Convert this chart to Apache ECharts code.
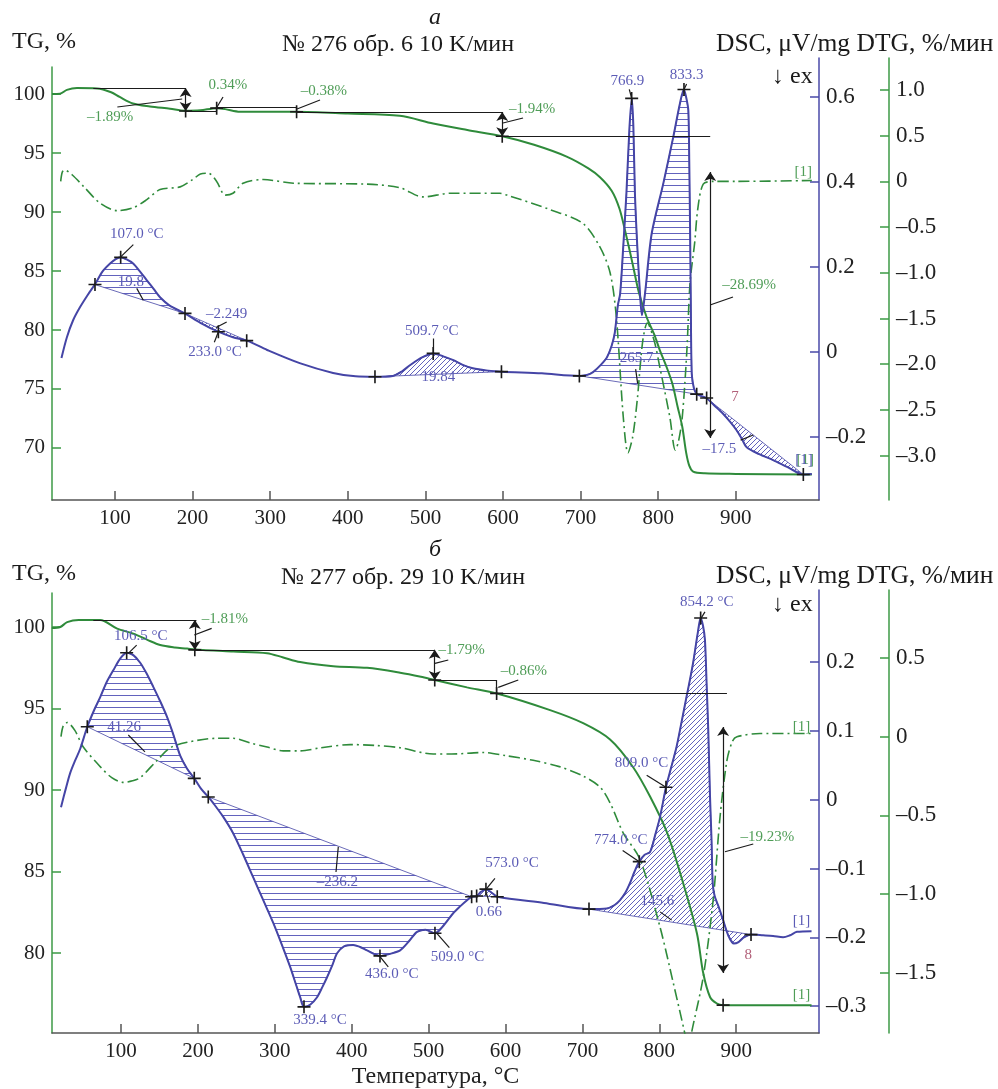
<!DOCTYPE html>
<html>
<head>
<meta charset="utf-8">
<script src="https://cdn.jsdelivr.net/npm/echarts@6/dist/echarts.min.js"></script>
<style>
html, body { margin: 0; padding: 0; background: #fff; }
#chart { width: 998px; height: 1089px; }
</style>
</head>
<body>
<div id="chart"></div>
<script>
// ---- panel a: № 276 ----
var tgA = [[19,100.0],[29,100.02],[38,100.35],[51,100.5],[77,100.47],[95,100.15],[106,99.75],[123,99.2],[145,98.95],[171,98.75],[190,98.58],[210,98.62],[231,98.8],[242,98.72],[261,98.5],[300,98.5],[334,98.5],[400,98.35],[467,98.15],[510,97.5],[554,96.95],[599,96.42],[640,95.7],[682,94.7],[710,93.7],[725,92.95],[740,91.8],[750,90.3],[757,88.5],[763,86.8],[768,85.3],[775,83.2],[785,81.1],[795,79.6],[802,78.3],[810,77.0],[818,75.5],[825,73.5],[831,71.8],[836,69.6],[840,68.5],[845,68.0],[860,67.85],[900,67.8],[998,67.75]];
var dtgA = [[30,0.0],[32,0.1],[35,0.125],[45,0.07],[60,-0.06],[81,-0.24],[103,-0.32],[123,-0.29],[141,-0.2],[158,-0.09],[184,-0.06],[200,0.02],[210,0.08],[220,0.09],[231,0.0],[242,-0.15],[252,-0.13],[265,-0.02],[291,0.02],[330,-0.02],[425,-0.03],[467,-0.07],[497,-0.17],[532,-0.13],[596,-0.13],[605,-0.15],[661,-0.31],[703,-0.46],[725,-0.72],[738,-1.0],[746,-1.48],[755,-2.58],[761,-2.97],[767,-2.8],[773,-2.39],[780,-1.75],[786,-1.55],[795,-1.75],[802,-2.03],[815,-2.58],[822,-2.94],[826,-2.85],[831,-2.58],[837,-1.84],[841,-1.11],[847,-0.67],[851,-0.3],[858,-0.03],[871,0.0],[900,0.0],[998,0.01]];
var dscA = [[31,-0.014],[38,0.035],[46,0.075],[55,0.106],[65,0.135],[74,0.159],[84,0.19],[94,0.209],[101,0.219],[107,0.223],[115,0.218],[123,0.209],[132,0.19],[141,0.169],[150,0.148],[158,0.129],[170,0.11],[190,0.091],[210,0.069],[233,0.048],[252,0.035],[270,0.027],[296,0.005],[338,-0.026],[381,-0.049],[410,-0.057],[435,-0.058],[458,-0.056],[470,-0.045],[480,-0.031],[495,-0.013],[510,-0.003],[523,-0.01],[536,-0.019],[548,-0.03],[561,-0.038],[578,-0.043],[598,-0.046],[650,-0.05],[699,-0.056],[708,-0.054],[716,-0.047],[726,-0.03],[734,-0.012],[740,0.015],[744,0.045],[748,0.11],[751,0.138],[755,0.25],[759,0.373],[763,0.53],[766,0.597],[768,0.53],[770,0.373],[773,0.25],[776.5,0.138],[779,0.087],[783,0.138],[791.6,0.279],[806.6,0.397],[819.5,0.507],[828,0.585],[833,0.618],[836,0.6],[838.8,0.569],[840,0.45],[841,0.3],[842,0.12],[843.2,-0.05],[846,-0.085],[850,-0.099],[862,-0.108],[872,-0.125],[883,-0.144],[893,-0.165],[901,-0.184],[908,-0.205],[914,-0.224],[930,-0.24],[948,-0.254],[966,-0.27],[987,-0.288],[998,-0.287]];
// peak integration limits [T1, DSC1, T2, DSC2]
var peaksA = [[74,0.159,190,0.091],[190,0.091,270,0.027],[435,-0.058,598,-0.046],[699,-0.056,850,-0.099],[862,-0.108,987,-0.288]];
var hatchKindA = ['h','d','d','h','d'];

// ---- panel б: № 277 ----
var tgB = [[10,99.94],[21,100.0],[30,100.3],[45,100.43],[73,100.43],[95,99.9],[116,99.6],[135,99.2],[151,98.9],[170,98.75],[186,98.68],[196,98.62],[246,98.5],[290,98.4],[310,98.15],[333,97.85],[376,97.6],[420,97.5],[463,97.2],[490,96.95],[508,96.75],[550,96.3],[589,95.92],[658,94.9],[701,94.1],[736,93.1],[766,91.4],[788,89.6],[810,87.4],[831,84.3],[849,81.2],[857,78.8],[866,77.3],[875,76.9],[883,76.8],[998,76.8]];
var dtgB = [[22,0.0],[25,0.07],[30,0.09],[40,0.04],[51,-0.065],[73,-0.19],[88,-0.26],[103,-0.29],[115,-0.28],[125,-0.26],[147,-0.15],[164,-0.07],[186,-0.035],[225,-0.01],[246,-0.01],[268,-0.04],[290,-0.065],[311,-0.09],[333,-0.09],[360,-0.07],[398,-0.05],[430,-0.055],[463,-0.07],[506,-0.11],[530,-0.11],[571,-0.1],[600,-0.12],[636,-0.15],[670,-0.19],[701,-0.25],[723,-0.32],[736,-0.42],[753,-0.61],[775,-0.78],[801,-1.21],[818,-1.56],[833,-1.88],[838,-2.0],[842,-1.88],[857,-1.53],[870,-1.04],[879,-0.51],[888,-0.15],[895,-0.03],[901,0.0],[931,0.02],[998,0.02]];
var dscB = [[22,-0.011],[28,0.015],[34,0.039],[40,0.056],[47,0.074],[56.2,0.106],[65,0.13],[73,0.149],[81,0.17],[90,0.188],[99,0.205],[107.4,0.2135],[116,0.21],[125,0.199],[133,0.184],[142,0.164],[151,0.143],[160,0.12],[168,0.095],[177,0.064],[186,0.045],[195.3,0.031],[204,0.016],[213.5,0.004],[220,-0.005],[233,-0.025],[246,-0.049],[259,-0.08],[272,-0.113],[285,-0.146],[298,-0.179],[310,-0.213],[320,-0.243],[328,-0.27],[333,-0.287],[338,-0.301],[346,-0.298],[355,-0.287],[362,-0.272],[368,-0.258],[375,-0.24],[381,-0.223],[390,-0.213],[402,-0.211],[411,-0.214],[420,-0.219],[436.8,-0.227],[450,-0.224],[463,-0.219],[475,-0.205],[485,-0.192],[496,-0.189],[508.3,-0.194],[520,-0.182],[532,-0.165],[541,-0.155],[550,-0.146],[556,-0.141],[562.5,-0.14],[568,-0.134],[574.6,-0.13],[583,-0.136],[589.3,-0.141],[650,-0.15],[708.6,-0.159],[732,-0.158],[742,-0.153],[749,-0.146],[756,-0.135],[762,-0.121],[768,-0.104],[774,-0.09],[781,-0.08],[788,-0.076],[795,-0.05],[801,-0.025],[808.7,0.018],[815,0.045],[822.5,0.077],[829,0.113],[835.5,0.15],[840,0.175],[844,0.199],[850,0.242],[853.8,0.264],[857,0.252],[859.4,0.232],[861.5,0.17],[863.7,0.101],[866,0.004],[868,-0.06],[869.5,-0.122],[872,-0.14],[877,-0.155],[883,-0.175],[890,-0.198],[897,-0.209],[903,-0.207],[910,-0.2],[919.3,-0.196],[935,-0.197],[948,-0.198],[961,-0.2],[970,-0.197],[979,-0.192],[998,-0.191]];
var peaksB = [[56.2,0.106,195.3,0.031],[213.5,0.004,556,-0.141],[562.5,-0.14,589.3,-0.141],[708.6,-0.159,919.3,-0.196]];
var hatchKindB = ['h','h','d','d'];

// ---- ticks ----
var tempTicks = [100,200,300,400,500,600,700,800,900];
var tgTicksA = [70,75,80,85,90,95,100];
var dscTicksA = [-0.2,0,0.2,0.4,0.6];
var dtgTicksA = [-3,-2.5,-2,-1.5,-1,-0.5,0,0.5,1];
var tgTicksB = [80,85,90,95,100];
var dscTicksB = [-0.3,-0.2,-0.1,0,0.1,0.2];
var dtgTicksB = [-1.5,-1,-0.5,0,0.5];

// ---- annotations: TG steps (T, TG) ----
var levelsA = [[[72,100.5],[191,100.5]],[[191,98.56],[231,98.56]],[[231,98.56],[231,98.92]],[[231,98.92],[334,98.92]],[[334,98.92],[334,98.47]],[[334,98.47],[599,98.47]],[[599,96.42],[867,96.42]]];
var stepArrowsA = [[[191,100.5],[191,98.56]],[[599,98.47],[599,96.42]],[[867,93.4],[867,70.85]]];
var tgLeadersA = [[[103,98.9],[186.6,99.58]],[[231.4,98.9],[239.2,99.75]],[[334.5,98.73],[364.2,99.49]],[[600,97.54],[625.8,97.97]],[[866.8,82.12],[896.4,82.8]]];
var tgLabelsA = [[93.6,98.05,'\u20131.89%'],[245.6,100.76,'0.34%'],[369.3,100.25,'\u20130.38%'],[637.4,98.73,'\u20131.94%'],[917,83.8,'\u201328.69%'],[989.5,69.0,'[1]']];
var tgMarksA = [[191,98.56],[231,98.8],[334,98.5],[599,96.42]];
var dscMarksA = [[74.2,0.159],[107.3,0.223],[190.2,0.091],[233.2,0.048],[269.7,0.027],[435,-0.058],[510,-0.003],[598,-0.046],[698.4,-0.056],[765.8,0.597],[833.2,0.618],[849.6,-0.099],[862.4,-0.108],[987,-0.288]];
var dscLeadersA = [[[123.6,0.253],[107.3,0.224]],[[128,0.15],[136.5,0.122]],[[243.9,0.071],[230.2,0.058]],[[228,0.023],[233.2,0.048]],[[510.2,0.032],[510.2,-0.003]],[[762.7,0.618],[765.8,0.597]],[[836.6,0.631],[833.2,0.618]],[[770.9,-0.04],[773.5,-0.074]],[[906.2,-0.207],[922.5,-0.195]]];
var dscLabelsA = [[127.9,0.277,'107.0 \u00b0C'],[120.4,0.165,'19.8'],[243.9,0.089,'\u20132.249'],[228.9,0.001,'233.0 \u00b0C'],[508.1,0.05,'509.7 \u00b0C'],[516.6,-0.0595,'19.84'],[760.4,0.638,'766.9'],[836.6,0.652,'833.3'],[772.2,-0.015,'265.7'],[878.7,-0.227,'\u201317.5'],[988,-0.253,'[1]']];
var pinkLabelsA = [[899,-0.105,'7']];
var dtgLabelsA = [[987,0.106,'[1]']];

var levelsB = [[[64,100.43],[198,100.43]],[[196,98.6],[508,98.6]],[[508,96.75],[588.5,96.75]],[[588.5,96.75],[588.5,95.93]],[[588.5,95.93],[888,95.93]]];
var stepArrowsB = [[[196,100.43],[196,98.6]],[[508,98.6],[508,96.75]],[[883,93.87],[883,78.77]]];
var tgLeadersB = [[[195.3,99.51],[217.9,99.92]],[[508.3,97.77],[525.6,97.98]],[[590.6,96.3],[616.6,96.75]],[[885.4,86.21],[922.2,86.69]]];
var tgLabelsB = [[235.2,100.47,'\u20131.81%'],[543,98.59,'\u20131.79%'],[624,97.3,'\u20130.86%'],[940.7,87.14,'\u201319.23%'],[985,77.42,'[1]']];
var tgMarksB = [[196,98.6],[508,96.75],[588.5,95.93],[883,76.8]];
var dscMarksB = [[56.2,0.106],[107.4,0.2135],[195.3,0.031],[213.5,0.004],[338,-0.301],[436.8,-0.227],[508.3,-0.194],[556,-0.141],[562.5,-0.14],[574.6,-0.13],[589.3,-0.141],[708.6,-0.159],[774,-0.09],[808.7,0.018],[853.8,0.264],[919.3,-0.196]];
var dscLeadersB = [[[109.5,0.2126],[120.4,0.2247]],[[109.5,0.094],[131.2,0.0696]],[[379.6,-0.105],[382.6,-0.0685]],[[447.6,-0.243],[436.8,-0.228]],[[527,-0.215],[510.5,-0.194]],[[586.3,-0.1144],[574.6,-0.1304]],[[575,-0.135],[579,-0.15]],[[752.4,-0.074],[774,-0.09]],[[783.6,0.0355],[808.7,0.018]],[[859.4,0.273],[854.2,0.2635]],[[801,-0.163],[816.1,-0.175]]];
var dscLabelsB = [[125.8,0.238,'106.5 \u00b0C'],[104.1,0.106,'41.26'],[381.5,-0.119,'\u2013236.2'],[358.8,-0.32,'339.4 \u00b0C'],[452,-0.253,'436.0 \u00b0C'],[537.6,-0.229,'509.0 \u00b0C'],[608.5,-0.0917,'573.0 \u00b0C'],[578.5,-0.163,'0.66'],[750,-0.0587,'774.0 \u00b0C'],[777,0.0527,'809.0 \u00b0C'],[861.6,0.2876,'854.2 \u00b0C'],[797.6,-0.148,'145.6'],[985,-0.177,'[1]']];
var pinkLabelsB = [[915.7,-0.226,'8']];
var dtgLabelsB = [[985,0.064,'[1]']];

var GREEN = '#2f8b3b', BLUE = '#4545a6', HATCH = '#6262bd';
var TXT_G = '#4f9d57', TXT_B = '#5c5cb6', PINK = '#b26079', INK = '#1b1b1b';
var FONT = 'Liberation Serif';
var PLUS = 'path://M7,0H9V7H16V9H9V16H7V9H0V7H7Z';

function fmt(v) {
    if (Math.abs(v) < 1e-9) return '0';
    return (v < 0 ? '\u2013' : '') + Math.abs(v).toFixed(1);
}

function makeHatch(kind) {
    var s = kind === 'h' ? 6 : 5;
    var c = document.createElement('canvas');
    c.width = s; c.height = s;
    var g = c.getContext('2d');
    g.strokeStyle = HATCH;
    g.lineWidth = 1;
    g.beginPath();
    if (kind === 'h') {
        g.moveTo(0, s - 0.5); g.lineTo(s, s - 0.5);
    } else {
        g.moveTo(-1, s + 1); g.lineTo(s + 1, -1);
        g.moveTo(-1, 1); g.lineTo(1, -1);
        g.moveTo(s - 1, s + 1); g.lineTo(s + 1, s - 1);
    }
    g.stroke();
    return c;
}
var hatchImg = { h: makeHatch('h'), d: makeHatch('d') };

function yAxis(grid, pos, min, max, ticks, color, formatter, offset, size) {
    return {
        type: 'value', gridIndex: grid, position: pos, offset: offset || 0,
        min: min, max: max,
        axisLine: { show: true, onZero: false, lineStyle: { color: color, width: 1.5 } },
        axisTick: { show: true, inside: true, length: 9, customValues: ticks, lineStyle: { color: color, width: 1.5 } },
        axisLabel: { show: true, customValues: ticks, formatter: formatter, color: '#222', fontFamily: FONT, fontSize: size, margin: 7 },
        splitLine: { show: false }
    };
}

function xAxis(grid, min, max, visible, name) {
    return {
        type: 'value', gridIndex: grid, min: min, max: max, show: visible,
        name: name || '', nameLocation: 'middle', nameGap: 32,
        nameTextStyle: { fontFamily: FONT, fontSize: 24, color: '#222' },
        axisLine: { show: true, onZero: false, lineStyle: { color: '#555', width: 1.5 } },
        axisTick: { show: true, inside: true, length: 9, customValues: tempTicks, lineStyle: { color: '#555', width: 1.5 } },
        axisLabel: { show: true, customValues: tempTicks, color: '#222', fontFamily: FONT, fontSize: 21, margin: 8 },
        splitLine: { show: false }
    };
}

function curve(data, xi, yi, color, dashed, z) {
    return {
        type: 'line', xAxisIndex: xi, yAxisIndex: yi, data: data,
        showSymbol: false, smooth: 0.3, silent: true, z: z,
        lineStyle: { color: color, width: dashed ? 1.6 : 2, type: dashed ? [11, 4, 2, 4] : 'solid' }
    };
}

function hatchSeries(line, bounds, kinds, xi, yi) {
    return {
        type: 'custom', xAxisIndex: xi, yAxisIndex: yi, silent: true, z: 2,
        data: bounds.map(function (b, i) { return [b[0], b[1], i]; }),
        renderItem: function (params, api) {
            var i = api.value(2);
            var b = bounds[i];
            var pts = [api.coord([b[0], b[1]])];
            line.forEach(function (p) {
                if (p[0] > b[0] && p[0] < b[2]) pts.push(api.coord(p));
            });
            pts.push(api.coord([b[2], b[3]]));
            return {
                type: 'polygon',
                shape: { points: pts },
                style: { fill: { image: hatchImg[kinds[i]], repeat: 'repeat' }, stroke: BLUE, lineWidth: 0.8 }
            };
        }
    };
}

function segs(list, xi, yi, arrows) {
    return {
        type: 'lines', coordinateSystem: 'cartesian2d', xAxisIndex: xi, yAxisIndex: yi,
        silent: true, z: 5,
        symbol: arrows ? ['arrow', 'arrow'] : 'none', symbolSize: 9,
        lineStyle: { color: INK, width: 1.2, opacity: 1 },
        data: list.map(function (s) { return { coords: s }; })
    };
}

function marks(list, xi, yi) {
    return {
        type: 'scatter', xAxisIndex: xi, yAxisIndex: yi, data: list, silent: true, z: 6,
        symbol: PLUS, symbolSize: 13, itemStyle: { color: INK, opacity: 1 }
    };
}

function texts(list, xi, yi, color) {
    return {
        type: 'custom', xAxisIndex: xi, yAxisIndex: yi, silent: true, z: 7,
        data: list.map(function (t, i) { return [t[0], t[1], i]; }),
        renderItem: function (params, api) {
            var p = api.coord([api.value(0), api.value(1)]);
            return {
                type: 'text', x: p[0], y: p[1],
                style: {
                    text: list[api.value(2)][2], fill: color,
                    font: '15px "' + FONT + '"',
                    align: 'center', verticalAlign: 'middle',
                    textAlign: 'center', textVerticalAlign: 'middle'
                }
            };
        }
    };
}

function gtext(x, y, str, align, italic, size) {
    return {
        type: 'text', x: x, y: y, silent: true,
        style: {
            text: str, fill: '#1a1a1a',
            font: (italic ? 'italic ' : '') + (size || 24) + 'px "' + FONT + '"',
            align: align, verticalAlign: 'middle',
            textAlign: align, textVerticalAlign: 'middle'
        }
    };
}

var chart = echarts.init(document.getElementById('chart'), null, { renderer: 'canvas' });

chart.setOption({
    animation: false,
    backgroundColor: '#fff',
    grid: [
        { left: 52, top: 58, width: 767, height: 442, outerBoundsMode: 'none' },
        { left: 52, top: 67, width: 767, height: 433, outerBoundsMode: 'none' },
        { left: 52, top: 590, width: 767, height: 443, outerBoundsMode: 'none' },
        { left: 52, top: 593, width: 767, height: 440, outerBoundsMode: 'none' }
    ],
    xAxis: [
        xAxis(0, 18.8, 1007.2, true),
        xAxis(1, 18.8, 1007.2, false),
        xAxis(2, 10.3, 1007.7, true, 'Температура, \u00b0C'),
        xAxis(3, 10.3, 1007.7, false)
    ],
    yAxis: [
        yAxis(1, 'left', 65.59, 102.29, tgTicksA, '#3c9a46', function (v) { return String(v); }, 0, 21),
        yAxis(0, 'right', -0.348, 0.692, dscTicksA, '#4a4aa8', fmt, 0, 23),
        yAxis(0, 'right', -3.486, 1.35, dtgTicksA, '#3c9a46', fmt, 70, 23),
        yAxis(3, 'left', 75.09, 102.09, tgTicksB, '#3c9a46', function (v) { return String(v); }, 0, 21),
        yAxis(2, 'right', -0.339, 0.3047, dscTicksB, '#4a4aa8', fmt, 0, 23),
        yAxis(2, 'right', -1.882, 0.932, dtgTicksB, '#3c9a46', fmt, 70, 23)
    ],
    graphic: { elements: [
        gtext(435, 18, '\u0430', 'center', true),
        gtext(398, 45, '\u2116 276 обр. 6 10 K/мин', 'center'),
        gtext(12, 42, 'TG, %', 'left'),
        gtext(716, 44, 'DSC, \u03bcV/mg DTG, %/мин', 'left', false, 25.5),
        gtext(772, 77, '\u2193 ex', 'left'),
        gtext(435, 550, '\u0431', 'center', true),
        gtext(403, 578, '\u2116 277 обр. 29 10 K/мин', 'center'),
        gtext(12, 574, 'TG, %', 'left'),
        gtext(716, 576, 'DSC, \u03bcV/mg DTG, %/мин', 'left', false, 25.5),
        gtext(772, 605, '\u2193 ex', 'left')
    ] },
    series: [
        // panel a
        hatchSeries(dscA, peaksA, hatchKindA, 0, 1),
        curve(dtgA, 0, 2, GREEN, true, 3),
        curve(tgA, 1, 0, GREEN, false, 3),
        curve(dscA, 0, 1, BLUE, false, 4),
        segs(levelsA, 1, 0, false),
        segs(stepArrowsA, 1, 0, true),
        segs(tgLeadersA, 1, 0, false),
        segs(dscLeadersA, 0, 1, false),
        marks(tgMarksA, 1, 0),
        marks(dscMarksA, 0, 1),
        texts(tgLabelsA, 1, 0, TXT_G),
        texts(dscLabelsA, 0, 1, TXT_B),
        texts(pinkLabelsA, 0, 1, PINK),
        texts(dtgLabelsA, 0, 2, TXT_G),
        // panel б
        hatchSeries(dscB, peaksB, hatchKindB, 2, 4),
        curve(dtgB, 2, 5, GREEN, true, 3),
        curve(tgB, 3, 3, GREEN, false, 3),
        curve(dscB, 2, 4, BLUE, false, 4),
        segs(levelsB, 3, 3, false),
        segs(stepArrowsB, 3, 3, true),
        segs(tgLeadersB, 3, 3, false),
        segs(dscLeadersB, 2, 4, false),
        marks(tgMarksB, 3, 3),
        marks(dscMarksB, 2, 4),
        texts(tgLabelsB, 3, 3, TXT_G),
        texts(dscLabelsB, 2, 4, TXT_B),
        texts(pinkLabelsB, 2, 4, PINK),
        texts(dtgLabelsB, 2, 5, TXT_G)
    ]
});
</script>
</body>
</html>
